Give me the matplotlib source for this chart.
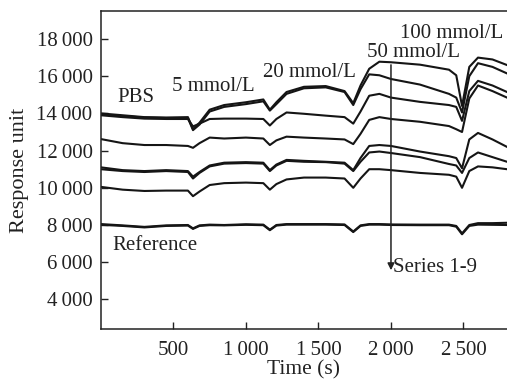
import matplotlib
matplotlib.use("Agg")
import matplotlib.pyplot as plt
from matplotlib.ticker import FuncFormatter

plt.rcParams['font.family'] = ['Liberation Serif', 'DejaVu Serif']

# time grid (s)
t = [0, 150, 300, 450, 600, 635, 680, 750, 850, 1000, 1120, 1165, 1210, 1280,
     1400, 1550, 1680, 1740, 1790, 1850, 1920, 2000, 2200, 2400, 2450, 2490,
     2540, 2600, 2700, 2800]

s1 = [14000, 13900, 13800, 13780, 13800, 13150, 13500, 14200, 14450, 14600, 14750, 14200, 14600, 15150,
      15430, 15470, 15200, 14550, 15500, 16400, 16780, 16750, 16620, 16350, 16050, 14400,
      16500, 17000, 16900, 16600]
s2 = [13950, 13850, 13780, 13750, 13750, 13100, 13400, 14100, 14350, 14500, 14650, 14150, 14500, 15050,
      15350, 15400, 15150, 14450, 15300, 16100, 16050, 15850, 15550, 15050, 14850, 14050,
      16000, 16700, 16500, 16150]
s3 = [13900, 13800, 13720, 13700, 13700, 13300, 13450, 13700, 13720, 13720, 13700, 13350, 13700, 14050,
      13980, 13880, 13800, 13450, 14100, 14950, 15050, 14850, 14620, 14450, 14350, 13600,
      15200, 15750, 15500, 15150]
s4 = [12620, 12400, 12300, 12300, 12250, 12150, 12400, 12700, 12650, 12700, 12650, 12300, 12550, 12750,
      12700, 12650, 12600, 12350, 12900, 13650, 13800, 13700, 13550, 13320, 13150, 13000,
      14800, 15500, 15200, 14850]
s5 = [11100, 10950, 10900, 10950, 10900, 10600, 10850, 11200, 11350, 11380, 11350, 10950, 11250, 11500,
      11450, 11400, 11350, 10950, 11600, 12250, 12300, 12250, 11950, 11700, 11600, 11050,
      12600, 12950, 12600, 12200]
s6 = [11000, 10900, 10850, 10900, 10850, 10500, 10800, 11150, 11300, 11330, 11300, 10900, 11200, 11450,
      11400, 11380, 11300, 10900, 11400, 11900, 11950, 11870, 11650, 11280, 11200, 10800,
      11600, 11900, 11650, 11400]
s7 = [10050, 9900, 9830, 9850, 9850, 9550, 9800, 10150, 10250, 10280, 10250, 9900, 10200, 10450,
      10550, 10550, 10500, 10000, 10500, 11000, 11000, 10950, 10800, 10700, 10600, 10000,
      10900, 11150, 11100, 11000]
r1 = [8050, 7980, 7900, 7980, 8000, 7820, 7980, 8020, 8000, 8040, 8020, 7750, 8000, 8050,
      8050, 8050, 8030, 7650, 7980, 8050, 8050, 8030, 8020, 8020, 7950, 7550,
      8000, 8100, 8100, 8120]
r2 = [8010, 7950, 7870, 7950, 7970, 7790, 7950, 7990, 7980, 8010, 7990, 7720, 7970, 8020,
      8020, 8020, 8000, 7620, 7950, 8020, 8020, 8000, 7990, 7990, 7910, 7500,
      7950, 8020, 8010, 8000]

series = [s1, s2, s3, s4, s5, s6, s7, r1, r2]

yticks = [4000, 6000, 8000, 10000, 12000, 14000, 16000, 18000]
xticks = [500, 1000, 1500, 2000, 2500]

labels = [("PBS", 241, 14880), ("5 mmol/L", 772, 15420), ("20 mmol/L", 1435, 16226),
          ("50 mmol/L", 2152, 17300), ("100 mmol/L", 2421, 18320), ("Reference", 372, 6925)]

fig = plt.figure(figsize=(5.07, 3.85), dpi=100)
ax = fig.add_axes([0.199, 0.1455, 0.801, 0.8259])

for s in series:
    ax.plot(t, s, color='#151515', lw=1.5, solid_joinstyle='round')

ax.set_xlim(0, 2800)
ax.set_ylim(2410, 19505)
ax.set_xticks(xticks)
ax.set_yticks(yticks)
fmt = FuncFormatter(lambda v, p: f"{int(v):,}".replace(",", "\u2009"))
ax.xaxis.set_major_formatter(fmt)
ax.yaxis.set_major_formatter(fmt)
ax.tick_params(direction='in', length=5, width=1, labelsize=15, colors='#222222')
ax.tick_params(axis='y', pad=6)
ax.tick_params(axis='x', pad=9)
ax.spines['right'].set_visible(False)
for sp in ['left', 'bottom', 'top']:
    ax.spines[sp].set_linewidth(1.1)
    ax.spines[sp].set_color('#222222')

ax.set_xlabel("Time (s)", fontsize=15.5, color='#222222', labelpad=0)
ax.set_ylabel("Response unit", fontsize=16, color='#222222', labelpad=5)

for txt, x, y in labels:
    ax.text(x, y, txt, fontsize=15, ha='center', va='center', color='#222222')

ax.annotate('', xy=(2000, 5420), xytext=(2000, 16760),
            arrowprops=dict(arrowstyle='-|>', color='#222222', lw=1.1, mutation_scale=10))
ax.text(2014, 5690, "Series 1-9", fontsize=15, ha='left', va='center', color='#222222')

fig.savefig("out.png", dpi=100)
